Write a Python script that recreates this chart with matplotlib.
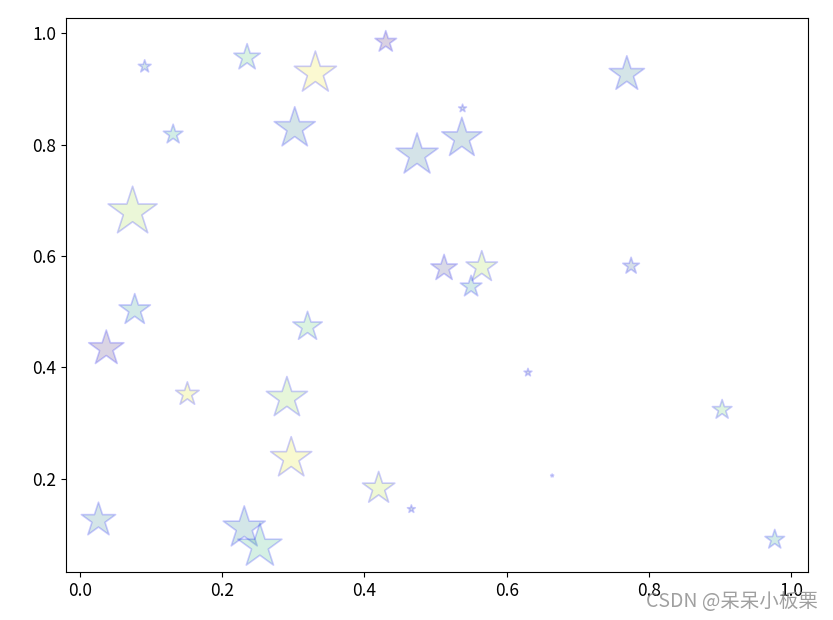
import numpy as np
import matplotlib
matplotlib.use("Agg")
import matplotlib.pyplot as plt

plt.rcParams['font.family'] = ['Noto Sans CJK SC', 'DejaVu Sans']

x = [0.091, 0.235, 0.331, 0.302, 0.131, 0.074, 0.430, 0.769, 0.538, 0.537,
     0.474, 0.512, 0.565, 0.550, 0.775, 0.077, 0.037, 0.320, 0.151, 0.291,
     0.297, 0.420, 0.466, 0.026, 0.231, 0.253, 0.630, 0.664, 0.903, 0.977]
y = [0.940, 0.956, 0.928, 0.829, 0.818, 0.679, 0.984, 0.926, 0.865, 0.811,
     0.781, 0.578, 0.580, 0.545, 0.582, 0.503, 0.434, 0.473, 0.352, 0.345,
     0.237, 0.183, 0.146, 0.126, 0.112, 0.079, 0.391, 0.206, 0.324, 0.091]
sizes = [93, 400, 1014, 968, 219, 1372, 266, 711, 35, 922,
         1014, 400, 562, 266, 159, 562, 711, 494, 316, 968,
         968, 598, 35, 672, 1014, 1111, 35, 5, 219, 219]
colors = [0.45, 0.70, 0.97, 0.40, 0.60, 0.85, 0.08, 0.40, 0.30, 0.38,
          0.38, 0.20, 0.85, 0.50, 0.30, 0.50, 0.12, 0.72, 0.95, 0.82,
          0.95, 0.88, 0.30, 0.42, 0.45, 0.65, 0.25, 0.30, 0.75, 0.55]

fig = plt.figure(figsize=(8.33, 6.2), dpi=100)
ax = fig.add_axes([0.0792, 0.0774, 0.891, 0.8936])
ax.scatter(x, y, s=sizes, c=colors, cmap='viridis', vmin=0, vmax=1,
           marker='*', alpha=0.2, edgecolors='b', linewidths=1.2)
ax.set_xlim(-0.0197, 1.024)
ax.set_ylim(0.033, 1.027)
ax.set_xticks([0.0, 0.2, 0.4, 0.6, 0.8, 1.0])
ax.set_yticks([0.2, 0.4, 0.6, 0.8, 1.0])
ax.tick_params(labelsize=12.5)

# watermark from the source image
fig.text(0.982, 0.030, 'CSDN @呆呆小板栗', ha='right', va='center',
         fontsize=14, color='#888888', alpha=0.8)

fig.savefig('out.png', dpi=100)
